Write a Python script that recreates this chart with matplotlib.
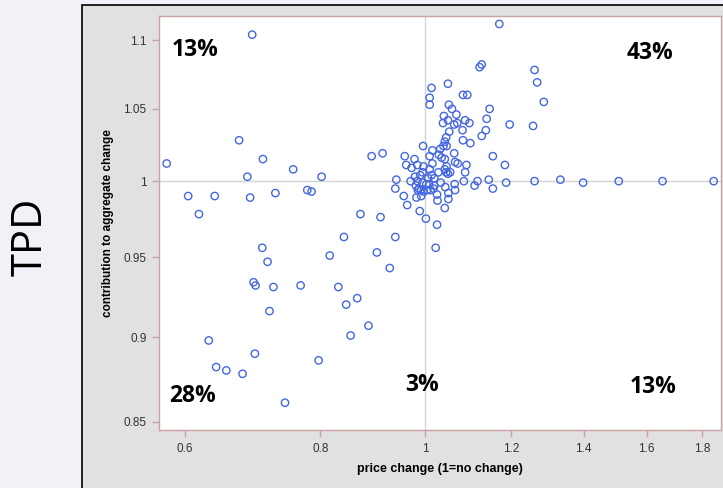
import matplotlib
matplotlib.use("Agg")
import matplotlib.pyplot as plt
from matplotlib.patches import Rectangle
from matplotlib.ticker import FixedLocator, NullLocator

# price change (1 = no change)
preco = [0.577, 0.604, 0.618, 0.639, 0.673, 0.685, 0.708, 0.689, 0.727, 0.755,
         0.778, 0.785, 0.802, 0.871, 0.892, 0.913, 0.909, 0.692, 0.841, 0.938,
         0.707, 0.715, 0.816, 0.902, 0.927, 0.694, 0.697, 0.724, 0.767, 0.831,
         0.865, 0.845, 0.718, 0.886, 0.853, 0.631, 0.696, 0.797, 0.641, 0.655,
         0.678, 0.742, 1.022, 1.170, 1.013, 1.049, 1.009, 1.009, 1.122, 1.127,
         1.083, 1.093, 1.051, 1.058, 1.068, 1.040, 1.049, 1.038, 1.063, 1.070,
         1.088, 1.098, 1.146, 1.139, 1.137, 1.127, 1.082, 1.052, 1.045, 1.083,
         1.100, 1.042, 1.046, 1.039, 1.032, 0.995, 1.015, 1.063, 1.154, 1.009,
         1.029, 1.035, 0.957, 0.977, 1.042, 1.065, 1.071, 1.091, 0.960, 0.971,
         0.983, 0.996, 1.015, 1.046, 1.042, 1.054, 1.045, 1.049, 1.088, 1.009,
         0.994, 0.978, 1.006, 1.019, 0.940, 0.969, 0.983, 0.994, 1.002, 1.033,
         1.085, 1.117, 1.144, 0.938, 0.980, 0.986, 0.984, 0.991, 0.996, 1.004,
         1.011, 1.017, 1.019, 1.043, 1.064, 1.065, 1.050, 1.110, 1.154, 0.955,
         0.981, 0.991, 1.025, 1.050, 1.026, 0.962, 1.042, 0.988, 1.001, 1.025,
         1.261, 1.268, 1.286, 1.196, 1.257, 1.184, 1.187, 1.261, 1.332, 1.398,
         1.508, 1.655, 1.845, 1.008, 1.013, 1.028, 0.989]

# contribution to aggregate change
contribuicao = [1.012, 0.990, 0.978, 0.990, 1.028, 1.003, 1.015, 0.989, 0.992, 1.008,
                0.994, 0.993, 1.003, 0.978, 1.017, 1.019, 0.976, 1.104, 0.963, 0.963,
                0.956, 0.947, 0.951, 0.953, 0.943, 0.934, 0.932, 0.931, 0.932, 0.931,
                0.924, 0.920, 0.916, 0.907, 0.901, 0.898, 0.890, 0.886, 0.882, 0.880,
                0.878, 0.861, 0.956, 1.112, 1.065, 1.068, 1.058, 1.053, 1.080, 1.082,
                1.060, 1.060, 1.053, 1.050, 1.046, 1.045, 1.042, 1.040, 1.039, 1.040,
                1.042, 1.040, 1.050, 1.043, 1.035, 1.031, 1.035, 1.034, 1.030, 1.028,
                1.026, 1.027, 1.024, 1.024, 1.022, 1.024, 1.021, 1.019, 1.017, 1.017,
                1.018, 1.016, 1.017, 1.015, 1.015, 1.013, 1.012, 1.011, 1.011, 1.009,
                1.011, 1.010, 1.012, 1.010, 1.008, 1.006, 1.006, 1.005, 1.006, 1.008,
                1.006, 1.003, 1.002, 1.002, 1.001, 1.000, 1.000, 0.999, 0.998, 0.999,
                1.000, 1.000, 1.001, 0.995, 0.997, 0.995, 0.994, 0.994, 0.993, 0.994,
                0.994, 0.995, 0.997, 0.996, 0.998, 0.994, 0.992, 0.997, 0.995, 0.990,
                0.989, 0.990, 0.991, 0.988, 0.987, 0.984, 0.982, 0.980, 0.975, 0.971,
                1.078, 1.069, 1.055, 1.039, 1.038, 1.011, 0.999, 1.000, 1.001, 0.999,
                1.000, 1.000, 1.000, 0.998, 1.004, 1.006, 1.004]

x_ticks = [0.6, 0.8, 1, 1.2, 1.4, 1.6, 1.8]
x_labels = ["0.6", "0.8", "1", "1.2", "1.4", "1.6", "1.8"]
y_ticks = [0.85, 0.9, 0.95, 1, 1.05, 1.1]
y_labels = ["0.85", "0.9", "0.95", "1", "1.05", "1.1"]

# quadrant shares
quadrantes = ["13%", "43%", "28%", "3%", "13%"]
quad_pos = [(0.064, 0.918), (0.874, 0.911), (0.059, 0.083), (0.468, 0.109), (0.879, 0.104)]

plt.rcParams['font.family'] = ['Liberation Sans', 'DejaVu Sans']

fig = plt.figure(figsize=(7.23, 4.88), dpi=100)
fig.patch.set_facecolor('#f0f2f7')

# gray panel behind the chart
painel = Rectangle((82 / 723, -0.02), 1.0, 1.02 - 5 / 488, transform=fig.transFigure,
                   facecolor='#e1e1e1', edgecolor='black', linewidth=1.2, zorder=-1)
fig.patches.append(painel)

fig.text(0.042, 0.515, "TPD", rotation=90, fontsize=30, ha='center', va='center',
         family=['Open Sans', 'DejaVu Sans'], color='black')

ax = fig.add_axes([159 / 723, 58 / 488, 562 / 723, 414 / 488])
ax.set_zorder(1)
ax.set_facecolor('white')
ax.set_xscale('log')
ax.set_yscale('log')

ax.axvline(1, color='#d4d4d4', linewidth=1, zorder=1)
ax.axhline(1, color='#d4d4d4', linewidth=1, zorder=1)

ax.scatter(preco, contribuicao, s=28, facecolors='none', edgecolors='#4467e0',
           linewidths=1.0, zorder=3)

ax.set_xlim(0.5677, 1.874)
ax.set_ylim(0.8453, 1.118)

ax.xaxis.set_major_locator(FixedLocator(x_ticks))
ax.xaxis.set_minor_locator(NullLocator())
ax.set_xticklabels(x_labels)
ax.yaxis.set_major_locator(FixedLocator(y_ticks))
ax.yaxis.set_minor_locator(NullLocator())
ax.set_yticklabels(y_labels)

cor_borda = '#c9a3a3'
for lado in ax.spines.values():
    lado.set_color(cor_borda)
    lado.set_linewidth(1)
ax.tick_params(axis='both', direction='out', length=5, width=1, color=cor_borda,
               labelsize=8.5, labelcolor='#333333', pad=4)

ax.set_xlabel("price change (1=no change)", fontsize=9, fontweight='bold', labelpad=6)
ax.set_ylabel("contribution to aggregate change", fontsize=8.5, fontweight='bold', labelpad=7)

for texto, (px, py) in zip(quadrantes, quad_pos):
    ax.text(px, py, texto, transform=ax.transAxes, ha='center', va='center',
            fontsize=16.5, fontweight='bold', family=['Open Sans', 'DejaVu Sans'],
            color='black', zorder=4)

fig.savefig("out.png", dpi=100, facecolor=fig.get_facecolor())
